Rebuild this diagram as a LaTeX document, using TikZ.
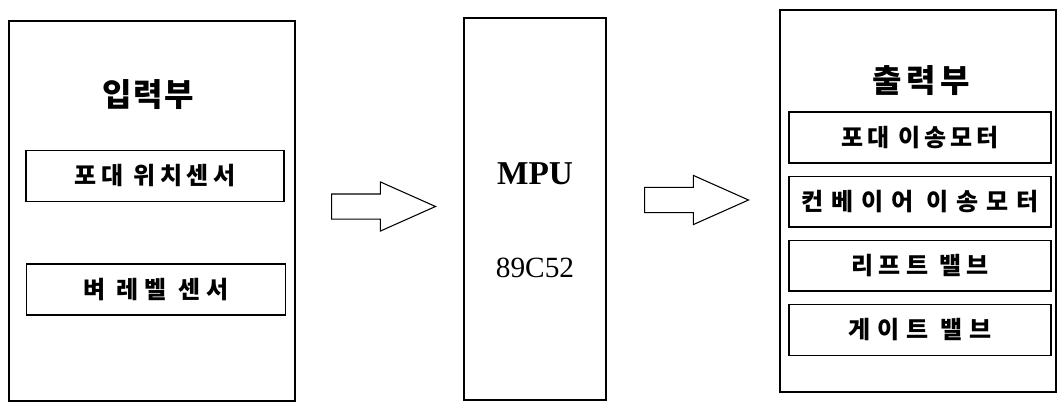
\documentclass[tikz,border=0pt]{standalone}
\usepackage{fontspec}
\newfontfamily\krfont{Noto Sans CJK KR}
\newfontfamily\latinfont{Liberation Serif}
\usetikzlibrary{positioning,shapes.arrows}

\begin{document}
\begin{tikzpicture}[x=0.75pt,y=-0.75pt,
    frame/.style={draw,line width=1.4pt,inner sep=0pt},
    unitbox/.style={draw,line width=1.1pt,inner sep=0pt,minimum height=38pt},
    krtitle/.style={font=\krfont\bfseries\fontsize{24pt}{26pt}\selectfont\addfontfeatures{LetterSpace=#1}},
    krlabel/.style={font=\krfont\bfseries\fontsize{18pt}{20pt}\selectfont\addfontfeatures{LetterSpace=#1}},
    flow/.style={draw,line width=0.8pt,single arrow,inner xsep=0pt,inner ysep=9pt,minimum height=78pt,
      single arrow head extend=9pt,single arrow tip angle=48,anchor=tail}]
  \useasboundingbox (0,0) rectangle (1058,403);
  % input side
  \node[frame,minimum width=214.5pt,minimum height=285pt] (input) at (152,211) {};
  \node[krtitle=5] (intitle) at (148,95) {입력부};
  \node[unitbox,minimum width=193.5pt,krlabel=19] (possensor) at (155,176) {포대 위치센서};
  \node[unitbox,minimum width=194pt,krlabel=25] (levelsensor) at (156,289.5) {벼 레벨 센서};
  % controller
  \node[frame,minimum width=106.5pt,minimum height=287pt] (mpu) at (535,209) {};
  \node[font=\latinfont\bfseries\fontsize{25pt}{28pt}\selectfont] (mputitle) at (535,174) {MPU};
  \node[font=\latinfont\fontsize{22pt}{24pt}\selectfont] (mpuchip) at (535,268) {89C52};
  % output side
  \node[frame,minimum width=207pt,minimum height=286.5pt] (output) at (918,201) {};
  \node[krtitle=14] (outtitle) at (921,81) {출력부};
  \node[unitbox,minimum width=196.5pt,krlabel=16] (bagmotor) at (920,137.5) {포대 이송모터};
  \node[unitbox,minimum width=196.5pt,krlabel=33,below=9pt of bagmotor] (convmotor) {컨베이어 이송모터};
  \node[unitbox,minimum width=196.5pt,krlabel=22,below=9pt of convmotor] (liftvalve) {리프트 밸브};
  \node[unitbox,minimum width=196.5pt,krlabel=28,below=9pt of liftvalve] (gatevalve) {게이트 밸브};
  % data flow
  \node[flow] (inflow) at (331,206.5) {};
  \node[flow] (outflow) at (644,200) {};
\end{tikzpicture}
\end{document}
